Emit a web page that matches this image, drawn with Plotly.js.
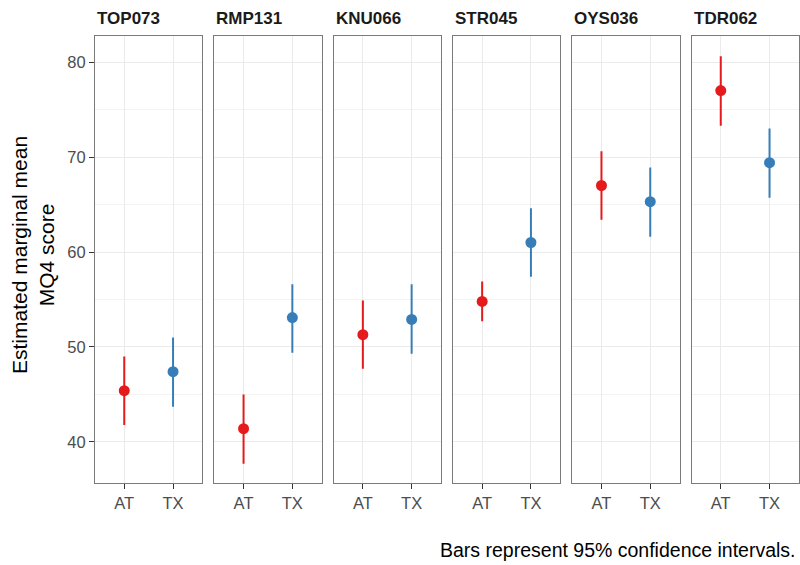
<!DOCTYPE html>
<html>
<head>
<meta charset="utf-8">
<script src="https://cdn.plot.ly/plotly-3.0.1.min.js"></script>
<style>html,body{margin:0;padding:0;background:#fff;}#chart{width:800px;height:565px;}</style>
</head>
<body>
<div id="chart"></div>
<script>
// ---- data ----
const sites = ['TOP073', 'RMP131', 'KNU066', 'STR045', 'OYS036', 'TDR062'];
const groups = ['AT', 'TX'];
const atMean = [45.4, 41.4, 51.3, 54.8, 67.0, 77.0];
const atLower = [41.8, 37.7, 47.7, 52.7, 63.4, 73.3];
const atUpper = [49.0, 45.0, 54.9, 56.9, 70.6, 80.6];
const txMean = [47.4, 53.1, 52.9, 61.0, 65.3, 69.4];
const txLower = [43.7, 49.4, 49.3, 57.4, 61.6, 65.7];
const txUpper = [51.0, 56.6, 56.6, 64.6, 68.9, 73.0];
const yTicks = [40, 50, 60, 70, 80];
const caption = 'Bars represent 95% confidence intervals.';
const yTitle = 'Estimated marginal mean<br>MQ4 score';

// ---- styling ----
const W = 800, H = 565;
const colors = {AT: '#E41A1C', TX: '#377EB8'};
const font = 'Liberation Sans, Arial, Helvetica, sans-serif';
const panelLeft = 95, panelStep = 119.3, panelW = 107.3;
const panelTop = 36, panelBottom = 483.3;

const traces = [];
const layout = {
  width: W, height: H,
  margin: {l: 0, r: 0, t: 0, b: 0},
  paper_bgcolor: '#fff', plot_bgcolor: '#fff',
  showlegend: false,
  font: {family: font},
  annotations: []
};

const series = {
  AT: {mean: atMean, lo: atLower, hi: atUpper},
  TX: {mean: txMean, lo: txLower, hi: txUpper}
};

sites.forEach((site, i) => {
  const n = i === 0 ? '' : String(i + 1);
  const x0 = (panelLeft + i * panelStep) / W;
  const x1 = (panelLeft + i * panelStep + panelW) / W;
  layout['xaxis' + n] = {
    domain: [x0, x1],
    anchor: 'y' + n,
    type: 'category',
    categoryorder: 'array', categoryarray: groups,
    range: [-0.6, 1.6],
    showgrid: true, gridcolor: '#EBEBEB', gridwidth: 1,
    showline: true, mirror: true, linecolor: '#7a7a7a', linewidth: 1,
    ticks: 'outside', ticklen: 5, tickcolor: '#333', tickwidth: 1,
    tickfont: {size: 16.5, color: '#4D4D4D', family: font},
    zeroline: false, fixedrange: true
  };
  layout['yaxis' + n] = {
    domain: [1 - panelBottom / H, 1 - panelTop / H],
    anchor: 'x' + n,
    range: [35.65, 82.74],
    tickvals: yTicks,
    showticklabels: i === 0,
    ticks: i === 0 ? 'outside' : '',
    ticklen: 5, tickcolor: '#333', tickwidth: 1,
    tickfont: {size: 16.5, color: '#4D4D4D', family: font},
    showgrid: true, gridcolor: '#EBEBEB', gridwidth: 1,
    minor: {tickvals: [45, 55, 65, 75], showgrid: true, gridcolor: '#F3F3F3', gridwidth: 1, ticks: ''},
    showline: true, mirror: true, linecolor: '#7a7a7a', linewidth: 1,
    zeroline: false, fixedrange: true
  };
  groups.forEach(g => {
    const s = series[g];
    traces.push({
      type: 'scatter', mode: 'markers',
      x: [g], y: [s.mean[i]],
      xaxis: 'x' + n, yaxis: 'y' + n,
      marker: {color: colors[g], size: 11},
      error_y: {
        type: 'data', symmetric: false,
        array: [s.hi[i] - s.mean[i]],
        arrayminus: [s.mean[i] - s.lo[i]],
        color: colors[g], thickness: 2, width: 0
      },
      hoverinfo: 'skip'
    });
  });
  layout.annotations.push({
    xref: 'paper', yref: 'paper',
    x: x0, y: 1 - 19 / H,
    xanchor: 'left', yanchor: 'middle',
    text: '<b>' + site + '</b>', showarrow: false,
    font: {size: 17, color: '#1A1A1A', family: font}
  });
});

layout.annotations.push({
  xref: 'paper', yref: 'paper',
  x: 33 / W, y: 1 - 255 / H,
  xanchor: 'center', yanchor: 'middle',
  textangle: -90,
  text: yTitle, showarrow: false,
  font: {size: 21, color: '#000', family: font}
});
layout.annotations.push({
  xref: 'paper', yref: 'paper',
  x: 798 / W, y: 1 - 550 / H,
  xanchor: 'right', yanchor: 'middle',
  text: caption, showarrow: false,
  font: {size: 19.5, color: '#000', family: font}
});

Plotly.newPlot('chart', traces, layout, {staticPlot: true, displayModeBar: false});
</script>
</body>
</html>
